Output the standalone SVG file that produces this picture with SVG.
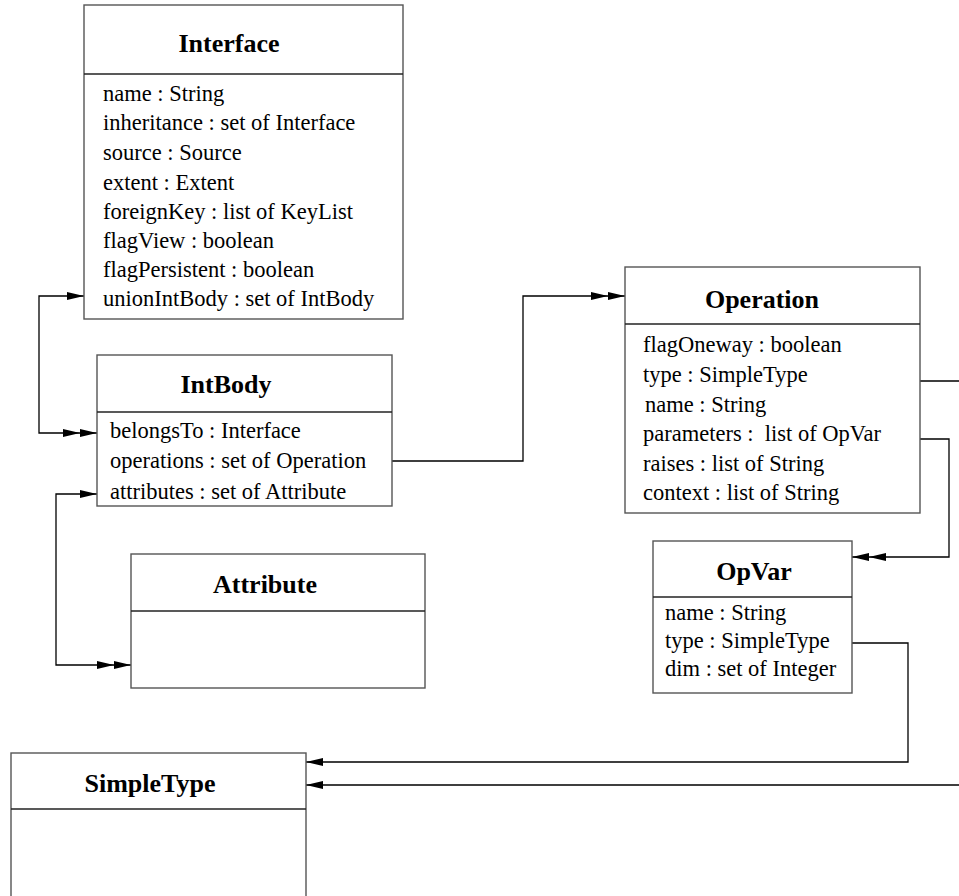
<svg xmlns="http://www.w3.org/2000/svg" width="959" height="896" viewBox="0 0 959 896">
  <style>
    .box { fill: #ffffff; stroke: #555555; stroke-width: 1.4; }
    .div { stroke: #222222; stroke-width: 1.3; }
    .title { font-family: "Liberation Serif", "Times New Roman", serif; font-size: 26px; font-weight: bold; text-anchor: middle; fill: #000000; }
    .attr { font-family: "Liberation Serif", "Times New Roman", serif; font-size: 22.5px; fill: #000000; }
    .link { fill: none; stroke: #000000; stroke-width: 1.3; }
  </style>
  <defs>
    <marker id="one" viewBox="0 0 17 8" markerWidth="17" markerHeight="8" refX="17" refY="4" orient="auto-start-reverse" markerUnits="userSpaceOnUse">
      <path d="M0,0 L17,4 L0,8 Z" fill="#000000"/>
    </marker>
    <marker id="two" viewBox="0 0 34 8" markerWidth="34" markerHeight="8" refX="34" refY="4" orient="auto-start-reverse" markerUnits="userSpaceOnUse">
      <path d="M0,0 L17,4 L0,8 Z M17,0 L34,4 L17,8 Z" fill="#000000"/>
    </marker>
  </defs>

  <rect width="959" height="896" fill="#ffffff"/>

  <g id="connectors">
    <path class="link" d="M84,296 H39 V433 H97" marker-start="url(#one)" marker-end="url(#two)"/>
    <path class="link" d="M97,494 H56 V665 H131" marker-start="url(#one)" marker-end="url(#two)"/>
    <path class="link" d="M392,461 H523 V296 H625" marker-end="url(#two)"/>
    <path class="link" d="M920,439 H949 V557 H852" marker-end="url(#two)"/>
    <path class="link" d="M852,643 H908 V762 H306" marker-end="url(#one)"/>
    <path class="link" d="M920,381 H975 V785 H306" marker-end="url(#one)"/>
  </g>

  <g id="Interface">
    <rect class="box" x="84" y="5" width="319" height="314"/>
    <line class="div" x1="84" y1="74" x2="403" y2="74"/>
    <text class="title" x="229" y="52">Interface</text>
    <text class="attr" x="103" y="101">name : String</text>
    <text class="attr" x="103" y="130">inheritance : set of Interface</text>
    <text class="attr" x="103" y="160">source : Source</text>
    <text class="attr" x="103" y="190">extent : Extent</text>
    <text class="attr" x="103" y="219">foreignKey : list of KeyList</text>
    <text class="attr" x="103" y="248">flagView : boolean</text>
    <text class="attr" x="103" y="277">flagPersistent : boolean</text>
    <text class="attr" x="103" y="306">unionIntBody : set of IntBody</text>
  </g>

  <g id="IntBody">
    <rect class="box" x="97" y="355" width="295" height="151"/>
    <line class="div" x1="97" y1="412" x2="392" y2="412"/>
    <text class="title" x="226" y="393">IntBody</text>
    <text class="attr" x="110" y="438">belongsTo : Interface</text>
    <text class="attr" x="110" y="468">operations : set of Operation</text>
    <text class="attr" x="110" y="499">attributes : set of Attribute</text>
  </g>

  <g id="Attribute">
    <rect class="box" x="131" y="554" width="294" height="134"/>
    <line class="div" x1="131" y1="611" x2="425" y2="611"/>
    <text class="title" x="265" y="593">Attribute</text>
  </g>

  <g id="Operation">
    <rect class="box" x="625" y="267" width="295" height="246"/>
    <line class="div" x1="625" y1="324" x2="920" y2="324"/>
    <text class="title" x="762" y="308">Operation</text>
    <text class="attr" x="643" y="352">flagOneway : boolean</text>
    <text class="attr" x="643" y="382">type : SimpleType</text>
    <text class="attr" x="645" y="412">name : String</text>
    <text class="attr" x="643" y="441" xml:space="preserve">parameters :  list of OpVar</text>
    <text class="attr" x="643" y="471">raises : list of String</text>
    <text class="attr" x="643" y="500">context : list of String</text>
  </g>

  <g id="OpVar">
    <rect class="box" x="653" y="541" width="199" height="152"/>
    <line class="div" x1="653" y1="597" x2="852" y2="597"/>
    <text class="title" x="754" y="580">OpVar</text>
    <text class="attr" x="665" y="620">name : String</text>
    <text class="attr" x="665" y="648">type : SimpleType</text>
    <text class="attr" x="665" y="676">dim : set of Integer</text>
  </g>

  <g id="SimpleType">
    <rect class="box" x="11" y="753" width="295" height="160"/>
    <line class="div" x1="11" y1="809" x2="306" y2="809"/>
    <text class="title" x="150" y="792">SimpleType</text>
  </g>
</svg>
